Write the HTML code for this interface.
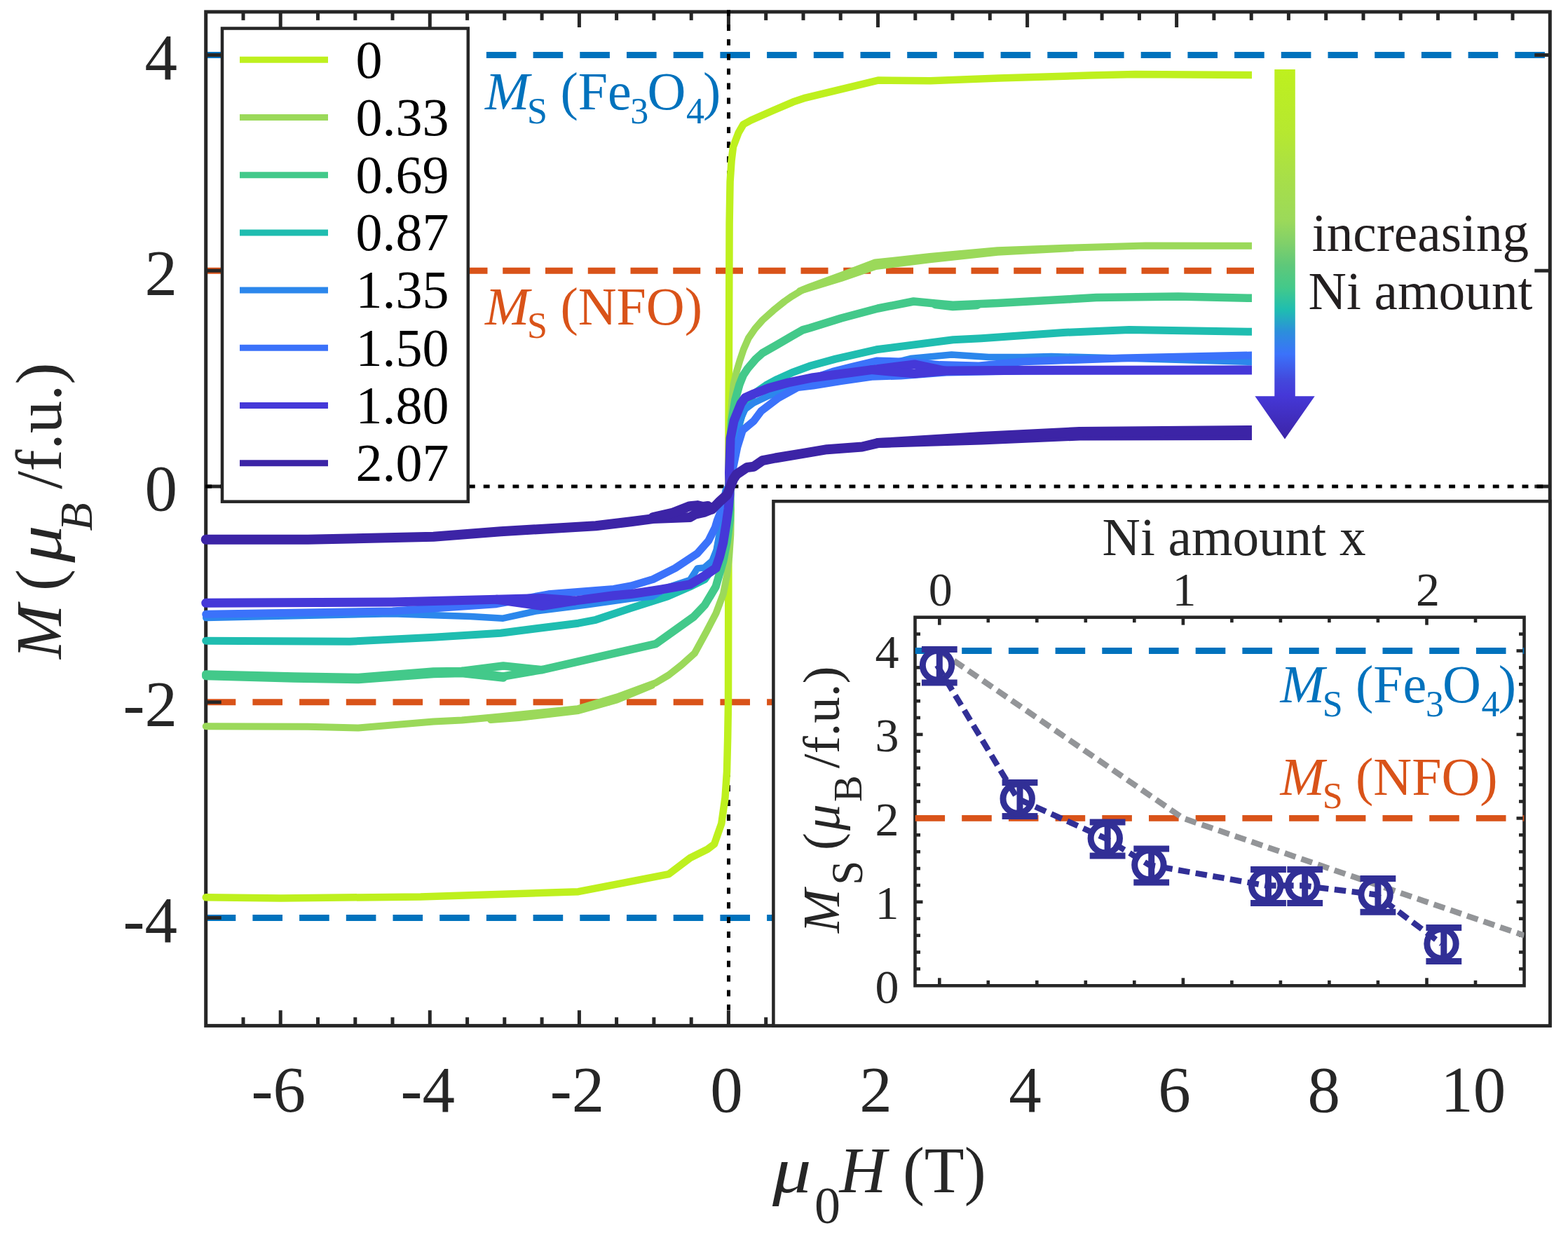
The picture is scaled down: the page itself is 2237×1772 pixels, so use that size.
<!DOCTYPE html>
<html><head><meta charset="utf-8"><title>Magnetization vs field</title>
<style>html,body{margin:0;padding:0;background:#fff;}body{width:2237px;height:1772px;overflow:hidden;}svg{display:block;}</style>
</head><body>
<svg width="2237" height="1772" viewBox="0 0 2237 1772" font-family="'Liberation Serif','Times New Roman',serif">
<rect width="2237" height="1772" fill="#fff"/>
<line x1="293.7" y1="78.5" x2="2211.3" y2="78.5" stroke="#0072BD" stroke-width="8.9" stroke-dasharray="42.6 24.1"/>
<line x1="293.7" y1="1309.5" x2="2211.3" y2="1309.5" stroke="#0072BD" stroke-width="8.9" stroke-dasharray="42.6 24.1"/>
<line x1="292" y1="386.2" x2="1789" y2="386.2" stroke="#D95319" stroke-width="8.9" stroke-dasharray="39 21.75"/>
<line x1="293.7" y1="1001.8" x2="2211.3" y2="1001.8" stroke="#D95319" stroke-width="8.9" stroke-dasharray="42.6 24.1"/>
<g stroke="#262626" stroke-width="5" fill="none">
<rect x="293.7" y="16.9" width="1917.6" height="1446.5"/>
<line x1="347" y1="1463.4" x2="347" y2="1451.4"/>
<line x1="347" y1="16.9" x2="347" y2="28.9"/>
<line x1="400.2" y1="1463.4" x2="400.2" y2="1441.4"/>
<line x1="400.2" y1="16.9" x2="400.2" y2="39"/>
<line x1="453.5" y1="1463.4" x2="453.5" y2="1451.4"/>
<line x1="453.5" y1="16.9" x2="453.5" y2="28.9"/>
<line x1="506.8" y1="1463.4" x2="506.8" y2="1451.4"/>
<line x1="506.8" y1="16.9" x2="506.8" y2="28.9"/>
<line x1="560" y1="1463.4" x2="560" y2="1451.4"/>
<line x1="560" y1="16.9" x2="560" y2="28.9"/>
<line x1="613.3" y1="1463.4" x2="613.3" y2="1441.4"/>
<line x1="613.3" y1="16.9" x2="613.3" y2="39"/>
<line x1="666.6" y1="1463.4" x2="666.6" y2="1451.4"/>
<line x1="666.6" y1="16.9" x2="666.6" y2="28.9"/>
<line x1="719.8" y1="1463.4" x2="719.8" y2="1451.4"/>
<line x1="719.8" y1="16.9" x2="719.8" y2="28.9"/>
<line x1="773.1" y1="1463.4" x2="773.1" y2="1451.4"/>
<line x1="773.1" y1="16.9" x2="773.1" y2="28.9"/>
<line x1="826.4" y1="1463.4" x2="826.4" y2="1441.4"/>
<line x1="826.4" y1="16.9" x2="826.4" y2="39"/>
<line x1="879.6" y1="1463.4" x2="879.6" y2="1451.4"/>
<line x1="879.6" y1="16.9" x2="879.6" y2="28.9"/>
<line x1="932.9" y1="1463.4" x2="932.9" y2="1451.4"/>
<line x1="932.9" y1="16.9" x2="932.9" y2="28.9"/>
<line x1="986.2" y1="1463.4" x2="986.2" y2="1451.4"/>
<line x1="986.2" y1="16.9" x2="986.2" y2="28.9"/>
<line x1="1039.4" y1="1463.4" x2="1039.4" y2="1441.4"/>
<line x1="1039.4" y1="16.9" x2="1039.4" y2="39"/>
<line x1="1092.7" y1="1463.4" x2="1092.7" y2="1451.4"/>
<line x1="1092.7" y1="16.9" x2="1092.7" y2="28.9"/>
<line x1="1146" y1="1463.4" x2="1146" y2="1451.4"/>
<line x1="1146" y1="16.9" x2="1146" y2="28.9"/>
<line x1="1199.2" y1="1463.4" x2="1199.2" y2="1451.4"/>
<line x1="1199.2" y1="16.9" x2="1199.2" y2="28.9"/>
<line x1="1252.5" y1="1463.4" x2="1252.5" y2="1441.4"/>
<line x1="1252.5" y1="16.9" x2="1252.5" y2="39"/>
<line x1="1305.8" y1="1463.4" x2="1305.8" y2="1451.4"/>
<line x1="1305.8" y1="16.9" x2="1305.8" y2="28.9"/>
<line x1="1359" y1="1463.4" x2="1359" y2="1451.4"/>
<line x1="1359" y1="16.9" x2="1359" y2="28.9"/>
<line x1="1412.3" y1="1463.4" x2="1412.3" y2="1451.4"/>
<line x1="1412.3" y1="16.9" x2="1412.3" y2="28.9"/>
<line x1="1465.6" y1="1463.4" x2="1465.6" y2="1441.4"/>
<line x1="1465.6" y1="16.9" x2="1465.6" y2="39"/>
<line x1="1518.8" y1="1463.4" x2="1518.8" y2="1451.4"/>
<line x1="1518.8" y1="16.9" x2="1518.8" y2="28.9"/>
<line x1="1572.1" y1="1463.4" x2="1572.1" y2="1451.4"/>
<line x1="1572.1" y1="16.9" x2="1572.1" y2="28.9"/>
<line x1="1625.4" y1="1463.4" x2="1625.4" y2="1451.4"/>
<line x1="1625.4" y1="16.9" x2="1625.4" y2="28.9"/>
<line x1="1678.6" y1="1463.4" x2="1678.6" y2="1441.4"/>
<line x1="1678.6" y1="16.9" x2="1678.6" y2="39"/>
<line x1="1731.9" y1="1463.4" x2="1731.9" y2="1451.4"/>
<line x1="1731.9" y1="16.9" x2="1731.9" y2="28.9"/>
<line x1="1785.2" y1="1463.4" x2="1785.2" y2="1451.4"/>
<line x1="1785.2" y1="16.9" x2="1785.2" y2="28.9"/>
<line x1="1838.4" y1="1463.4" x2="1838.4" y2="1451.4"/>
<line x1="1838.4" y1="16.9" x2="1838.4" y2="28.9"/>
<line x1="1891.7" y1="1463.4" x2="1891.7" y2="1441.4"/>
<line x1="1891.7" y1="16.9" x2="1891.7" y2="28.9"/>
<line x1="1945" y1="1463.4" x2="1945" y2="1451.4"/>
<line x1="1945" y1="16.9" x2="1945" y2="28.9"/>
<line x1="1998.2" y1="1463.4" x2="1998.2" y2="1451.4"/>
<line x1="1998.2" y1="16.9" x2="1998.2" y2="28.9"/>
<line x1="2051.5" y1="1463.4" x2="2051.5" y2="1451.4"/>
<line x1="2051.5" y1="16.9" x2="2051.5" y2="28.9"/>
<line x1="2104.8" y1="1463.4" x2="2104.8" y2="1441.4"/>
<line x1="2104.8" y1="16.9" x2="2104.8" y2="28.9"/>
<line x1="2158" y1="1463.4" x2="2158" y2="1451.4"/>
<line x1="2158" y1="16.9" x2="2158" y2="28.9"/>
<line x1="293.7" y1="1309.5" x2="315.7" y2="1309.5"/>
<line x1="2211.3" y1="1309.5" x2="2189.3" y2="1309.5"/>
<line x1="293.7" y1="1001.8" x2="315.7" y2="1001.8"/>
<line x1="2211.3" y1="1001.8" x2="2189.3" y2="1001.8"/>
<line x1="293.7" y1="694" x2="315.7" y2="694"/>
<line x1="2211.3" y1="694" x2="2189.3" y2="694"/>
<line x1="293.7" y1="386.2" x2="315.7" y2="386.2"/>
<line x1="2211.3" y1="386.2" x2="2189.3" y2="386.2"/>
<line x1="293.7" y1="78.5" x2="315.7" y2="78.5"/>
<line x1="2211.3" y1="78.5" x2="2189.3" y2="78.5"/>
</g>
<line x1="293.2" y1="694" x2="2211.3" y2="694" stroke="#000" stroke-width="5" stroke-dasharray="8.9 11.97"/>
<line x1="1039.5" y1="14.2" x2="1039.5" y2="1441" stroke="#000" stroke-width="5" stroke-dasharray="8.9 11.97"/>
<defs><clipPath id="cc"><rect x="280" y="0" width="1506" height="1772"/></clipPath></defs>
<g clip-path="url(#cc)" stroke-linecap="round">
<polyline points="293.7,1280.3 400.7,1281.4 600,1279.5 825,1272.2 954.1,1247.1 984.6,1224 1009.2,1211.8 1019,1204.4 1029.3,1175 1034.5,1138 1037,1101.2 1038.2,1052 1039,1003 1039.3,837.6 1039.4,694 1039.6,600 1040.6,318.8 1041.6,259 1043.6,229.2 1046,209.3 1053.6,189.4 1060.5,177.5 1071.5,171.5 1103.3,157.5 1131.2,145.6 1149.1,139.6 1252.6,114.6 1327.3,115.2 1424.7,111.5 1554.5,107.6 1619.5,106 1700.6,106.6 1785.4,107" fill="none" stroke="#BEF01E" stroke-width="10.5" stroke-linejoin="round"/>
<polyline points="293.7,1036.3 439.3,1036.7 511.4,1038.6 618.4,1029.5 658.9,1027.5 712.8,1022.4 824,1011.3 879.7,994.6 935.4,974.2 954,963.1 972,949 991,932 1007.4,902 1021.5,875 1031.8,847.6 1037,821.2 1040.2,794.9 1042.3,763.2 1043,726.9 1042,694 1041.5,650 1042.5,600 1044.5,570 1046.6,548.6 1050.8,530.2 1055.5,514.4 1060.8,498.5 1067.7,482.7 1077.1,469 1087.7,456.9 1103.5,442.7 1119.3,430 1129.8,422.7 1145.1,413.5 1155,409.5 1200,393 1248.6,374.5 1326.6,366 1423.2,357.2 1530,353.4 1634.2,350.4 1785.4,350.8" fill="none" stroke="#9BD95A" stroke-width="10" stroke-linejoin="round"/>
<polyline points="1141,415 1200,397 1249.3,380 1326.6,370.4 1423.2,359.8 1530,354" fill="none" stroke="#9BD95A" stroke-width="10" stroke-linejoin="round"/>
<polyline points="700,1027 740,1024 825,1014 880.3,998.5 930,978" fill="none" stroke="#9BD95A" stroke-width="10" stroke-linejoin="round"/>
<polyline points="293.7,962 419.4,965 511.4,966.5 618.4,958 658.9,957.5 718,950 773.3,955.6 935.6,918.7 989.6,880 1005.4,863.4 1021.2,837 1031.8,800.1 1037,773.8 1041.2,742.2 1042,694 1041.5,640 1044,600 1049,570 1055,548.6 1060.3,535.4 1066.6,525.9 1078.2,512.2 1087.7,503.8 1108.8,491.7 1129.8,479.6 1145.6,470.6 1155,468 1200,454 1252.5,440 1303.4,430 1334.3,433 1359.4,435.3 1394.2,433.7 1423.2,432.4 1530,426.6 1564,424.6 1681,423 1785.4,425.3" fill="none" stroke="#43C98A" stroke-width="11.5" stroke-linejoin="round"/>
<polyline points="1334.3,434.5 1359.4,437.5 1394.2,435.5" fill="none" stroke="#43C98A" stroke-width="11.5" stroke-linejoin="round"/>
<polyline points="658.9,957.5 718,965 773.3,955.6" fill="none" stroke="#43C98A" stroke-width="11.5" stroke-linejoin="round"/>
<polyline points="293.7,964.5 419.4,968 511.4,969.5 618.4,961.5 658.9,960.5 718,967" fill="none" stroke="#43C98A" stroke-width="11.5" stroke-linejoin="round"/>
<polyline points="293.7,914.2 499.1,915.2 618.4,909.2 714.3,903.2 825,889.2 850,884.3 900,867.6 952.7,850.7 984.3,837 1005.4,826.5 1016,812 1021.2,794.9 1026.5,768.5 1030.5,745 1035,715 1039.5,694 1044,660 1050.7,619.1 1059.3,588.4 1075.3,562 1093,549.7 1108.8,541.2 1129.8,531.7 1155,522.3 1192.1,512.1 1250.3,498.8 1359.7,484.8 1400,482.7 1517,474.5 1610.8,470.5 1785.4,473.3" fill="none" stroke="#1FBDB0" stroke-width="11" stroke-linejoin="round"/>
<polyline points="293.7,881.5 560,875.7 671.3,879.4 717.7,882.2 764.1,872 838.3,862.7 900,854 931,851 952.7,838 984.3,827.5 994.9,811 1004.4,810 1016,800.1 1022,785 1025.8,763.8 1029.5,726.9 1035,700 1039,694 1045,650 1052,615 1058,595 1063,584 1075,575 1096,565 1117,558 1145,549 1180,540 1243,528 1285,515 1299,511.6 1357.6,506 1410.5,509.5 1460,509.5 1500,508.5 1600,511 1785.4,516.5" fill="none" stroke="#2C87EC" stroke-width="9.5" stroke-linejoin="round"/>
<polyline points="293.7,876.3 560,872 708.4,861.7 782.6,847.8 875.4,840.4 900,836 931.6,826.5 963.2,810.7 994.9,789.6 1010.7,771.7 1020.2,752.7 1023.3,742.2 1029.7,726.4 1037,710.5 1040,694 1043,680 1047,662.1 1052,637.5 1059.3,614 1075.3,600.7 1085.7,586.7 1110.3,567.8 1138.4,552.5 1160,550 1200,543.5 1243.5,537.3 1285.2,535.9 1350,531 1460,529 1785.4,527" fill="none" stroke="#3B72FA" stroke-width="11" stroke-linejoin="round"/>
<polyline points="1160,540 1187.8,530.4 1215.7,523.4 1250.4,515 1299,516.4 1340.9,520.6 1396.5,522 1460,515.7 1500,514.5 1600,511 1785.4,507" fill="none" stroke="#3B72FA" stroke-width="11" stroke-linejoin="round"/>
<polyline points="293.7,860.3 560,859 708.4,855.3 773.4,853.4 819.7,857.1 875.4,849.7 900,847.6 942.2,841.2 984.3,833.9 1005.4,821.2 1021.2,810.7 1026.5,794.9 1031.8,773.8 1036,747.4 1039.1,726.4 1041,705 1041,694 1040.5,674.4 1042.1,625.2 1047,600.7 1056.9,576.1 1063,567.5 1075.3,562 1096.2,553.7 1124.3,546 1160,538.7 1243.5,527.6 1304.7,519.9 1347.8,529 1460,528.3 1785.4,528" fill="none" stroke="#4538D8" stroke-width="13" stroke-linejoin="round"/>
<polyline points="1243.5,527.6 1304.7,533.1 1347.8,529" fill="none" stroke="#4538D8" stroke-width="13" stroke-linejoin="round"/>
<polyline points="708.4,855.3 773.4,864.5 819.7,857.1" fill="none" stroke="#4538D8" stroke-width="13" stroke-linejoin="round"/>
<polyline points="293.7,769.8 439.3,769.8 618.4,765.8 714.3,758.3 850,750.2 900,744.3 931.6,740.1 984.3,738 991.7,733.7 1005.4,730.6 1015.9,726.4 1026.5,715.8 1037,706.3 1041,697 1046,684 1050.7,676.9 1065.5,667 1075.3,665.8 1087.6,657.2 1106.1,653.5 1143,647.4 1179.8,641.2 1230,637.5 1252.5,632.1 1400,627.5 1540,621.5 1785.4,621" fill="none" stroke="#3C24A6" stroke-width="14" stroke-linejoin="round"/>
<polyline points="931.6,738 960.1,731.6 984.3,722.1 994.9,721.1 1003,723 1010,722 1015.9,726.4" fill="none" stroke="#3C24A6" stroke-width="14" stroke-linejoin="round"/>
<polyline points="1252.5,632.1 1400,623 1540,616 1785.4,614" fill="none" stroke="#3C24A6" stroke-width="14" stroke-linejoin="round"/>
</g>
<defs><linearGradient id="ag" gradientUnits="userSpaceOnUse" x1="0" y1="99" x2="0" y2="626.6">
<stop offset="0" stop-color="#BEF01E"/>
<stop offset="0.17" stop-color="#B6E830"/>
<stop offset="0.29" stop-color="#A8DF48"/>
<stop offset="0.41" stop-color="#9BD95A"/>
<stop offset="0.47" stop-color="#80D06A"/>
<stop offset="0.53" stop-color="#5EC87A"/>
<stop offset="0.59" stop-color="#43C98A"/>
<stop offset="0.65" stop-color="#1FBDB0"/>
<stop offset="0.71" stop-color="#2C8EDC"/>
<stop offset="0.77" stop-color="#3B72FA"/>
<stop offset="0.84" stop-color="#4348DC"/>
<stop offset="0.88" stop-color="#4538D8"/>
<stop offset="1.0" stop-color="#3C24A6"/>
</linearGradient></defs>
<path d="M1818.3,99 H1847.8 V565.2 H1875.7 L1833,626.6 L1790.4,565.2 H1818.3 Z" fill="url(#ag)"/>
<g font-family="'Liberation Serif','Times New Roman',serif" fill="#0072BD">
<text x="691.9" y="155.6" font-size="76" font-style="italic">M</text>
<text x="752.1" y="175.8" font-size="52">S</text>
<text x="799.4" y="155.6" font-size="76">(Fe</text>
<text x="899.3" y="175.8" font-size="52">3</text>
<text x="923.5" y="155.6" font-size="76">O</text>
<text x="979" y="175.8" font-size="52">4</text>
<text x="1003.1" y="155.6" font-size="76">)</text>
</g>
<g font-family="'Liberation Serif','Times New Roman',serif" fill="#D95319">
<text x="691.9" y="462.6" font-size="76" font-style="italic">M</text>
<text x="752.1" y="481.8" font-size="52">S</text>
<text x="799.4" y="462.6" font-size="76">(NFO)</text>
</g>
<g font-family="'Liberation Serif','Times New Roman',serif" font-size="75.3" fill="#231F20" text-anchor="middle">
<text x="2026.5" y="357.8">increasing</text>
<text x="2026.5" y="440.6">Ni amount</text>
</g>
<rect x="317" y="40.5" width="350.8" height="675.2" fill="#fff" stroke="#262626" stroke-width="4.5"/>
<g font-family="'Liberation Serif','Times New Roman',serif" font-size="76" fill="#000">
<line x1="342" y1="85.3" x2="468" y2="85.3" stroke="#BEF01E" stroke-width="9"/>
<text x="507.6" y="110.6">0</text>
<line x1="342" y1="167.5" x2="468" y2="167.5" stroke="#9BD95A" stroke-width="9"/>
<text x="507.6" y="192.8">0.33</text>
<line x1="342" y1="249.7" x2="468" y2="249.7" stroke="#43C98A" stroke-width="9"/>
<text x="507.6" y="275">0.69</text>
<line x1="342" y1="331.9" x2="468" y2="331.9" stroke="#1FBDB0" stroke-width="9"/>
<text x="507.6" y="357.2">0.87</text>
<line x1="342" y1="414.1" x2="468" y2="414.1" stroke="#2C87EC" stroke-width="9"/>
<text x="507.6" y="439.4">1.35</text>
<line x1="342" y1="496.3" x2="468" y2="496.3" stroke="#3B72FA" stroke-width="9"/>
<text x="507.6" y="521.6">1.50</text>
<line x1="342" y1="578.5" x2="468" y2="578.5" stroke="#4538D8" stroke-width="9"/>
<text x="507.6" y="603.8">1.80</text>
<line x1="342" y1="660.7" x2="468" y2="660.7" stroke="#3C24A6" stroke-width="9"/>
<text x="507.6" y="686">2.07</text>
</g>
<rect x="1103.4" y="715.2" width="1107.9" height="748.2" fill="#fff" stroke="#262626" stroke-width="4.5"/>
<g stroke="#262626" stroke-width="4.6" fill="none">
<rect x="1305.5" y="880.7" width="869" height="525.6"/>
<line x1="1340.3" y1="1406.3" x2="1340.3" y2="1395.3"/>
<line x1="1340.3" y1="880.7" x2="1340.3" y2="891.7"/>
<line x1="1409.8" y1="1406.3" x2="1409.8" y2="1398.8"/>
<line x1="1409.8" y1="880.7" x2="1409.8" y2="888.2"/>
<line x1="1479.3" y1="1406.3" x2="1479.3" y2="1398.8"/>
<line x1="1479.3" y1="880.7" x2="1479.3" y2="888.2"/>
<line x1="1548.8" y1="1406.3" x2="1548.8" y2="1398.8"/>
<line x1="1548.8" y1="880.7" x2="1548.8" y2="888.2"/>
<line x1="1618.3" y1="1406.3" x2="1618.3" y2="1398.8"/>
<line x1="1618.3" y1="880.7" x2="1618.3" y2="888.2"/>
<line x1="1687.9" y1="1406.3" x2="1687.9" y2="1395.3"/>
<line x1="1687.9" y1="880.7" x2="1687.9" y2="891.7"/>
<line x1="1757.4" y1="1406.3" x2="1757.4" y2="1398.8"/>
<line x1="1757.4" y1="880.7" x2="1757.4" y2="888.2"/>
<line x1="1826.9" y1="1406.3" x2="1826.9" y2="1398.8"/>
<line x1="1826.9" y1="880.7" x2="1826.9" y2="888.2"/>
<line x1="1896.4" y1="1406.3" x2="1896.4" y2="1398.8"/>
<line x1="1896.4" y1="880.7" x2="1896.4" y2="888.2"/>
<line x1="1965.9" y1="1406.3" x2="1965.9" y2="1398.8"/>
<line x1="1965.9" y1="880.7" x2="1965.9" y2="888.2"/>
<line x1="2035.5" y1="1406.3" x2="2035.5" y2="1395.3"/>
<line x1="2035.5" y1="880.7" x2="2035.5" y2="891.7"/>
<line x1="2105" y1="1406.3" x2="2105" y2="1398.8"/>
<line x1="2105" y1="880.7" x2="2105" y2="888.2"/>
<line x1="1305.5" y1="1382.4" x2="1313" y2="1382.4"/>
<line x1="2174.5" y1="1382.4" x2="2167" y2="1382.4"/>
<line x1="1305.5" y1="1358.5" x2="1313" y2="1358.5"/>
<line x1="2174.5" y1="1358.5" x2="2167" y2="1358.5"/>
<line x1="1305.5" y1="1334.6" x2="1313" y2="1334.6"/>
<line x1="2174.5" y1="1334.6" x2="2167" y2="1334.6"/>
<line x1="1305.5" y1="1310.7" x2="1313" y2="1310.7"/>
<line x1="2174.5" y1="1310.7" x2="2167" y2="1310.7"/>
<line x1="1305.5" y1="1286.8" x2="1316.5" y2="1286.8"/>
<line x1="2174.5" y1="1286.8" x2="2163.5" y2="1286.8"/>
<line x1="1305.5" y1="1263" x2="1313" y2="1263"/>
<line x1="2174.5" y1="1263" x2="2167" y2="1263"/>
<line x1="1305.5" y1="1239.1" x2="1313" y2="1239.1"/>
<line x1="2174.5" y1="1239.1" x2="2167" y2="1239.1"/>
<line x1="1305.5" y1="1215.2" x2="1313" y2="1215.2"/>
<line x1="2174.5" y1="1215.2" x2="2167" y2="1215.2"/>
<line x1="1305.5" y1="1191.3" x2="1313" y2="1191.3"/>
<line x1="2174.5" y1="1191.3" x2="2167" y2="1191.3"/>
<line x1="1305.5" y1="1167.4" x2="1316.5" y2="1167.4"/>
<line x1="2174.5" y1="1167.4" x2="2163.5" y2="1167.4"/>
<line x1="1305.5" y1="1143.5" x2="1313" y2="1143.5"/>
<line x1="2174.5" y1="1143.5" x2="2167" y2="1143.5"/>
<line x1="1305.5" y1="1119.6" x2="1313" y2="1119.6"/>
<line x1="2174.5" y1="1119.6" x2="2167" y2="1119.6"/>
<line x1="1305.5" y1="1095.7" x2="1313" y2="1095.7"/>
<line x1="2174.5" y1="1095.7" x2="2167" y2="1095.7"/>
<line x1="1305.5" y1="1071.8" x2="1313" y2="1071.8"/>
<line x1="2174.5" y1="1071.8" x2="2167" y2="1071.8"/>
<line x1="1305.5" y1="1047.9" x2="1316.5" y2="1047.9"/>
<line x1="2174.5" y1="1047.9" x2="2163.5" y2="1047.9"/>
<line x1="1305.5" y1="1024" x2="1313" y2="1024"/>
<line x1="2174.5" y1="1024" x2="2167" y2="1024"/>
<line x1="1305.5" y1="1000.2" x2="1313" y2="1000.2"/>
<line x1="2174.5" y1="1000.2" x2="2167" y2="1000.2"/>
<line x1="1305.5" y1="976.3" x2="1313" y2="976.3"/>
<line x1="2174.5" y1="976.3" x2="2167" y2="976.3"/>
<line x1="1305.5" y1="952.4" x2="1313" y2="952.4"/>
<line x1="2174.5" y1="952.4" x2="2167" y2="952.4"/>
<line x1="1305.5" y1="928.5" x2="1316.5" y2="928.5"/>
<line x1="2174.5" y1="928.5" x2="2163.5" y2="928.5"/>
<line x1="1305.5" y1="904.6" x2="1313" y2="904.6"/>
<line x1="2174.5" y1="904.6" x2="2167" y2="904.6"/>
</g>
<g font-family="'Liberation Serif','Times New Roman',serif" font-size="68" fill="#262626">
<text x="1341.8" y="864" text-anchor="middle">0</text>
<text x="1689.4" y="864" text-anchor="middle">1</text>
<text x="2037" y="864" text-anchor="middle">2</text>
<text x="1282.5" y="1430.7" text-anchor="end">0</text>
<text x="1282.5" y="1311.2" text-anchor="end">1</text>
<text x="1282.5" y="1191.8" text-anchor="end">2</text>
<text x="1282.5" y="1072.3" text-anchor="end">3</text>
<text x="1282.5" y="952.9" text-anchor="end">4</text>
</g>
<text x="1572.6" y="792.3" font-family="'Liberation Serif','Times New Roman',serif" font-size="75.2" fill="#262626">Ni amount x</text>
<g font-family="'Liberation Serif','Times New Roman',serif" fill="#262626" transform="translate(1197.2,1331.1) rotate(-90)">
<text x="0" y="0" font-size="75" font-style="italic">M</text>
<text x="68.4" y="32.4" font-size="63">S</text>
<text x="118.2" y="0" font-size="75">(</text>
<text x="146.2" y="0" font-size="75" font-style="italic">&#956;</text>
<text x="186.9" y="31.7" font-size="57">B</text>
<text x="234.9" y="0" font-size="75">/f.u.)</text>
</g>
<defs><clipPath id="ic"><rect x="1305.5" y="880.7" width="869" height="525.6"/></clipPath></defs>
<g clip-path="url(#ic)">
<line x1="1305.5" y1="928.5" x2="2174.5" y2="928.5" stroke="#0072BD" stroke-width="8.9" stroke-dasharray="42.6 24.1"/>
<line x1="1305.5" y1="1167.4" x2="2174.5" y2="1167.4" stroke="#D95319" stroke-width="8.9" stroke-dasharray="42.6 24.1"/>
<polyline points="1340.3,928.5 1687.9,1167.4 2174.5,1334.6" fill="none" stroke="#939598" stroke-width="8.3" stroke-linejoin="round" stroke-dasharray="16.5 8.5"/>
</g>
<g font-family="'Liberation Serif','Times New Roman',serif" fill="#0072BD">
<text x="1826.5" y="1001.9" font-size="76" font-style="italic">M</text>
<text x="1886.7" y="1022.1" font-size="52">S</text>
<text x="1934" y="1001.9" font-size="76">(Fe</text>
<text x="2033.9" y="1022.1" font-size="52">3</text>
<text x="2058.1" y="1001.9" font-size="76">O</text>
<text x="2113.6" y="1022.1" font-size="52">4</text>
<text x="2137.7" y="1001.9" font-size="76">)</text>
</g>
<g font-family="'Liberation Serif','Times New Roman',serif" fill="#D95319">
<text x="1826.5" y="1134.1" font-size="76" font-style="italic">M</text>
<text x="1886.7" y="1153.3" font-size="52">S</text>
<text x="1934" y="1134.1" font-size="76">(NFO)</text>
</g>
<polyline points="1337,949.2 1451.7,1139.5 1576.8,1196 1639.4,1234 1806.2,1263.5 1858.4,1263.5 1962.6,1276.3 2056.5,1346.5" fill="none" stroke="#312F96" stroke-width="8.3" stroke-linejoin="round" stroke-dasharray="16.5 8.5"/>
<g stroke="#312F96" stroke-width="9" fill="none">
<line x1="1340.3" y1="926.4" x2="1340.3" y2="974.1"/>
<line x1="1314.9" y1="926.4" x2="1365.7" y2="926.4"/>
<line x1="1314.9" y1="974.1" x2="1365.7" y2="974.1"/>
<circle cx="1337" cy="949.2" r="20.7"/>
<line x1="1455" y1="1116.6" x2="1455" y2="1164.4"/>
<line x1="1429.6" y1="1116.6" x2="1480.4" y2="1116.6"/>
<line x1="1429.6" y1="1164.4" x2="1480.4" y2="1164.4"/>
<circle cx="1451.7" cy="1139.5" r="20.7"/>
<line x1="1580.1" y1="1173.1" x2="1580.1" y2="1220.9"/>
<line x1="1554.7" y1="1173.1" x2="1605.5" y2="1173.1"/>
<line x1="1554.7" y1="1220.9" x2="1605.5" y2="1220.9"/>
<circle cx="1576.8" cy="1196" r="20.7"/>
<line x1="1642.7" y1="1211.1" x2="1642.7" y2="1258.9"/>
<line x1="1617.3" y1="1211.1" x2="1668.1" y2="1211.1"/>
<line x1="1617.3" y1="1258.9" x2="1668.1" y2="1258.9"/>
<circle cx="1639.4" cy="1234" r="20.7"/>
<line x1="1809.5" y1="1240.6" x2="1809.5" y2="1288.4"/>
<line x1="1784.1" y1="1240.6" x2="1834.9" y2="1240.6"/>
<line x1="1784.1" y1="1288.4" x2="1834.9" y2="1288.4"/>
<circle cx="1806.2" cy="1263.5" r="20.7"/>
<line x1="1861.7" y1="1240.6" x2="1861.7" y2="1288.4"/>
<line x1="1836.3" y1="1240.6" x2="1887.1" y2="1240.6"/>
<line x1="1836.3" y1="1288.4" x2="1887.1" y2="1288.4"/>
<circle cx="1858.4" cy="1263.5" r="20.7"/>
<line x1="1965.9" y1="1253.4" x2="1965.9" y2="1301.2"/>
<line x1="1940.5" y1="1253.4" x2="1991.3" y2="1253.4"/>
<line x1="1940.5" y1="1301.2" x2="1991.3" y2="1301.2"/>
<circle cx="1962.6" cy="1276.3" r="20.7"/>
<line x1="2059.8" y1="1323.6" x2="2059.8" y2="1371.4"/>
<line x1="2034.4" y1="1323.6" x2="2085.2" y2="1323.6"/>
<line x1="2034.4" y1="1371.4" x2="2085.2" y2="1371.4"/>
<circle cx="2056.5" cy="1346.5" r="20.7"/>
</g>
<g font-family="'Liberation Serif','Times New Roman',serif" font-size="93" fill="#262626">
<text x="397.2" y="1586.2" text-anchor="middle">-6</text>
<text x="610.3" y="1586.2" text-anchor="middle">-4</text>
<text x="823.4" y="1586.2" text-anchor="middle">-2</text>
<text x="1036.4" y="1586.2" text-anchor="middle">0</text>
<text x="1249.5" y="1586.2" text-anchor="middle">2</text>
<text x="1462.6" y="1586.2" text-anchor="middle">4</text>
<text x="1675.6" y="1586.2" text-anchor="middle">6</text>
<text x="1888.7" y="1586.2" text-anchor="middle">8</text>
<text x="2101.8" y="1586.2" text-anchor="middle">10</text>
<text x="253" y="1343.9" text-anchor="end">-4</text>
<text x="253" y="1036.2" text-anchor="end">-2</text>
<text x="253" y="728.4" text-anchor="end">0</text>
<text x="253" y="420.6" text-anchor="end">2</text>
<text x="253" y="112.9" text-anchor="end">4</text>
</g>
<g font-family="'Liberation Serif','Times New Roman',serif" fill="#262626">
<text transform="translate(1102.1,1701) scale(1.19,1)" font-size="93" font-style="italic">&#956;</text>
<text x="1161.9" y="1744.8" font-size="74">0</text>
<text x="1197.6" y="1701" font-size="93" font-style="italic">H</text>
<text x="1287.9" y="1701" font-size="93">(T)</text>
<g transform="translate(86.7,939.9) rotate(-90)">
<text x="0" y="0" font-size="93" font-style="italic">M</text>
<text x="96.8" y="0" font-size="93">(</text>
<text transform="translate(137.2,0) scale(1.14,1)" font-size="93" font-style="italic">&#956;</text>
<text x="182.3" y="43.8" font-size="66" font-style="italic">B</text>
<text x="242.1" y="0" font-size="93">/</text>
<text x="267.4" y="0" font-size="93">f.u.)</text>
</g>
</g>
</svg>
</body></html>
